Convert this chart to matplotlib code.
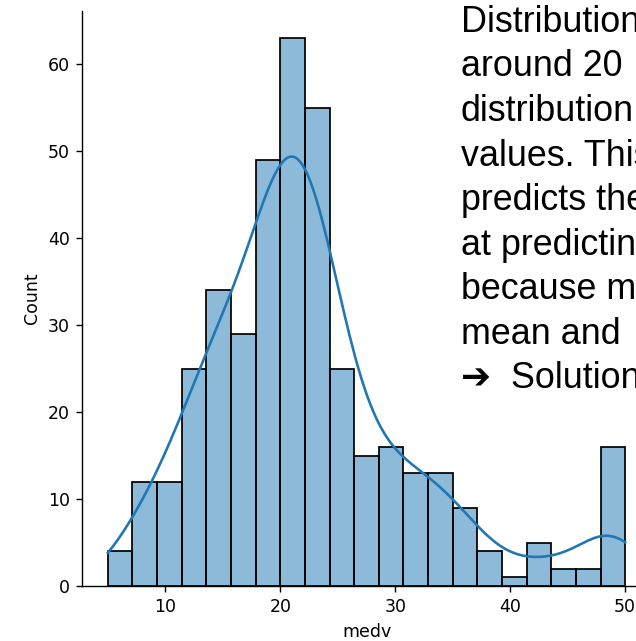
import numpy as np
import pandas as pd
import matplotlib
matplotlib.use("Agg")
import matplotlib.pyplot as plt
import seaborn as sns

# medv histogram of the training split: 21 equal bins between 5 and 50
bin_lo, bin_hi, n_bins = 5.0, 50.0, 21
counts = [4, 12, 12, 25, 34, 29, 49, 63, 55, 25, 15,
          16, 13, 13, 9, 4, 1, 5, 2, 2, 16]

notes = [
    "Distribution",
    "around 20",
    "distribution",
    "values. This",
    "predicts the",
    "at predicting",
    "because most",
    "mean and",
    "\u2794  Solution",
]

# one value per house, placed at its bin centre
edges = np.linspace(bin_lo, bin_hi, n_bins + 1)
centers = (edges[:-1] + edges[1:]) / 2
df = pd.DataFrame({"medv": np.repeat(centers, counts)})

fig = plt.figure(figsize=(636 / 125, 641 / 125), dpi=125)
ax = fig.add_axes([82 / 636, 55 / 641, 569 / 636, 575 / 641])

sns.histplot(data=df, x="medv", bins=n_bins, binrange=(bin_lo, bin_hi),
             kde=True, kde_kws={"cut": 3, "clip": (bin_lo, bin_hi)}, ax=ax)
ax.set_xlabel("medv")
ax.set_ylabel("Count")
ax.set_xticks([10, 20, 30, 40, 50])
ax.spines["top"].set_visible(False)
ax.spines["right"].set_visible(False)

# slide notes sitting to the right of the chart
for i, line in enumerate(notes):
    fig.text(461 / 636, 1 - (32 + i * 44.5) / 641, line,
             fontsize=20.7, va="baseline", ha="left", color="black",
             family=["Liberation Sans", "DejaVu Sans"])

fig.savefig("out.png", dpi=125)
